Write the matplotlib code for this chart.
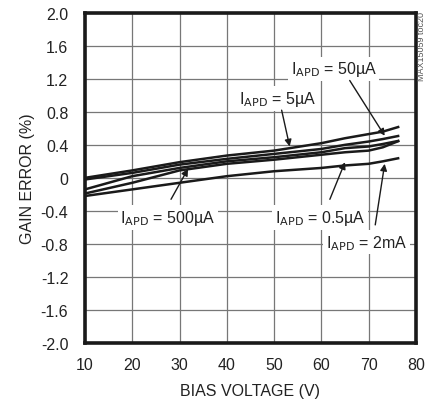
import matplotlib
matplotlib.use("Agg")
import matplotlib.pyplot as plt

plt.rcParams['font.family'] = ['Liberation Sans Narrow', 'Liberation Sans', 'DejaVu Sans']
plt.rcParams['mathtext.fontset'] = 'custom'
plt.rcParams['mathtext.rm'] = 'Liberation Sans Narrow'

# Data
bias_v = [10, 20, 30, 40, 50, 60, 65, 70, 73, 76.5]
err_5ua = [0.00, 0.09, 0.19, 0.27, 0.33, 0.42, 0.48, 0.53, 0.56, 0.62]
err_50ua = [-0.02, 0.06, 0.16, 0.23, 0.29, 0.35, 0.40, 0.44, 0.47, 0.51]
err_500ua = [-0.14, 0.02, 0.12, 0.20, 0.25, 0.31, 0.36, 0.38, 0.41, 0.45]
err_05ua = [-0.19, -0.06, 0.09, 0.17, 0.22, 0.28, 0.31, 0.33, 0.37, 0.45]
err_2ma = [-0.22, -0.14, -0.06, 0.02, 0.08, 0.12, 0.15, 0.17, 0.20, 0.24]

x_ticks = [10, 20, 30, 40, 50, 60, 70, 80]
y_ticks = [2.0, 1.6, 1.2, 0.8, 0.4, 0, -0.4, -0.8, -1.2, -1.6, -2.0]
y_labels = ['2.0', '1.6', '1.2', '0.8', '0.4', '0', '-0.4', '-0.8', '-1.2', '-1.6', '-2.0']

fig = plt.figure(figsize=(4.27, 4.06), dpi=100)
ax = fig.add_axes([0.199, 0.153, 0.775, 0.813])

for ys in [err_5ua, err_50ua, err_500ua, err_05ua, err_2ma]:
    ax.plot(bias_v, ys, color='#1a1a1a', lw=1.8, solid_capstyle='butt', zorder=3)

ax.set_xlim(10, 80)
ax.set_ylim(-2.0, 2.0)
ax.set_xticks(x_ticks)
ax.set_yticks(y_ticks)
ax.set_yticklabels(y_labels)
ax.tick_params(length=0, labelsize=11.5, colors='#222222')
ax.tick_params(axis='x', pad=10)
ax.tick_params(axis='y', pad=12)
ax.grid(True, color='#777777', lw=0.9)
ax.set_axisbelow(True)
for s in ax.spines.values():
    s.set_linewidth(2.6)
    s.set_color('#1a1a1a')

ax.set_xlabel('BIAS VOLTAGE (V)', fontsize=11.5, labelpad=8, color='#222222')
ax.set_ylabel('GAIN ERROR (%)', fontsize=11.5, labelpad=4, color='#222222')

# annotations: (label, text pos, arrow tail, arrow tip)
notes = [
    (r'I$_{\rm APD}$ = 50µA', (62.6, 1.32), (66.0, 1.18), (73.4, 0.51)),
    (r'I$_{\rm APD}$ = 5µA', (50.8, 0.96), (51.6, 0.82), (53.3, 0.38)),
    (r'I$_{\rm APD}$ = 500µA', (27.5, -0.48), (28.2, -0.26), (31.8, 0.11)),
    (r'I$_{\rm APD}$ = 0.5µA', (59.7, -0.48), (61.8, -0.26), (65.0, 0.19)),
    (r'I$_{\rm APD}$ = 2mA', (69.6, -0.78), (71.4, -0.57), (73.4, 0.17)),
]
for label, tpos, tail, tip in notes:
    ax.text(tpos[0], tpos[1], label, ha='center', va='center', fontsize=11.5,
            color='#222222', zorder=4,
            bbox=dict(facecolor='white', edgecolor='none', pad=2))
    ax.annotate('', xy=tip, xytext=tail, zorder=5,
                arrowprops=dict(arrowstyle='-|>', color='#1a1a1a', lw=1.0,
                                mutation_scale=10, shrinkA=0, shrinkB=0))

fig.text(0.986, 0.97, 'MAX15059 toc20', rotation=90, ha='center', va='top',
         fontsize=6.5, color='#555555')

fig.savefig('out.png', dpi=100)
